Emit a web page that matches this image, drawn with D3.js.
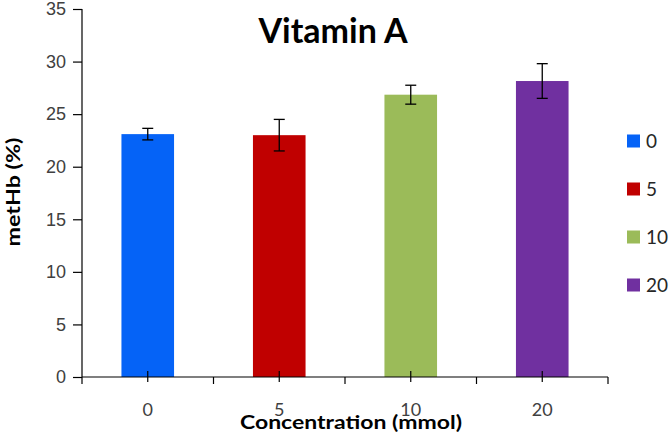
<!DOCTYPE html>
<html>
<head>
<meta charset="utf-8">
<script src="https://cdn.jsdelivr.net/npm/d3@7"></script>
<style>
  body { margin: 0; background: #fff; }
  svg { display: block; font-family: Lato, "Open Sans", sans-serif; }
  .tick text { fill: #404040; font-size: 18px; }
</style>
</head>
<body>
<div id="chart"></div>
<script>
const categories = ["0", "5", "10", "20"];
const values = [23.1, 23.0, 26.85, 28.15];
const errors = [0.55, 1.5, 0.9, 1.65];
const colors = ["#0563F7", "#C00000", "#9BBB59", "#7030A0"];
const yTicks = [0, 5, 10, 15, 20, 25, 30, 35];

const width = 671, height = 434;
const margin = { top: 9, right: 63, bottom: 57, left: 82 };
const innerW = width - margin.left - margin.right;
const innerH = height - margin.top - margin.bottom;

const svg = d3.select("#chart")
  .append("svg")
  .attr("width", width)
  .attr("height", height);

const g = svg.append("g")
  .attr("transform", "translate(" + margin.left + "," + margin.top + ")");

const x = d3.scaleBand()
  .domain(categories)
  .range([0, innerW])
  .paddingInner(0.6)
  .paddingOuter(0.3);

const y = d3.scaleLinear()
  .domain([0, 35])
  .range([innerH, 0]);

// bars
g.selectAll("rect.bar")
  .data(values)
  .enter()
  .append("rect")
  .attr("class", "bar")
  .attr("x", (d, i) => x(categories[i]))
  .attr("y", d => y(d))
  .attr("width", x.bandwidth())
  .attr("height", d => innerH - y(d))
  .attr("fill", (d, i) => colors[i]);

// error bars
const eb = g.selectAll("g.err")
  .data(values)
  .enter()
  .append("g")
  .attr("class", "err")
  .attr("stroke", "#000")
  .attr("stroke-width", 1.3);

const cx = i => x(categories[i]) + x.bandwidth() / 2;

eb.append("line")
  .attr("x1", (d, i) => cx(i))
  .attr("x2", (d, i) => cx(i))
  .attr("y1", (d, i) => y(d + errors[i]))
  .attr("y2", (d, i) => y(d - errors[i]));
eb.append("line")
  .attr("x1", (d, i) => cx(i) - 5.5)
  .attr("x2", (d, i) => cx(i) + 5.5)
  .attr("y1", (d, i) => y(d + errors[i]))
  .attr("y2", (d, i) => y(d + errors[i]));
eb.append("line")
  .attr("x1", (d, i) => cx(i) - 5.5)
  .attr("x2", (d, i) => cx(i) + 5.5)
  .attr("y1", (d, i) => y(d - errors[i]))
  .attr("y2", (d, i) => y(d - errors[i]));

// y axis
g.append("g")
  .call(d3.axisLeft(y).tickValues(yTicks).tickSize(9).tickPadding(7))
  .call(a => a.selectAll("line, path").attr("stroke", "#000").attr("stroke-width", 1.2))
  .call(a => a.select(".domain").attr("d", "M0," + innerH + "V0"));

// x axis: boundary ticks below, centre ticks crossing
const xAxis = g.append("g")
  .attr("transform", "translate(0," + innerH + ")");
xAxis.append("line")
  .attr("x1", 0).attr("x2", innerW)
  .attr("stroke", "#000").attr("stroke-width", 1.2);

const step = innerW / categories.length;
const bounds = d3.range(categories.length + 1).map(i => i * step);
xAxis.selectAll("line.bt")
  .data(bounds)
  .enter()
  .append("line")
  .attr("class", "bt")
  .attr("x1", d => d).attr("x2", d => d)
  .attr("y1", 0).attr("y2", 7)
  .attr("stroke", "#000").attr("stroke-width", 1.2);

xAxis.selectAll("line.ct")
  .data(categories)
  .enter()
  .append("line")
  .attr("class", "ct")
  .attr("x1", (d, i) => cx(i)).attr("x2", (d, i) => cx(i))
  .attr("y1", -6).attr("y2", 5)
  .attr("stroke", "#000").attr("stroke-width", 1.2);

xAxis.selectAll("text.xl")
  .data(categories)
  .enter()
  .append("text")
  .attr("class", "xl")
  .attr("x", (d, i) => cx(i))
  .attr("y", 39)
  .attr("text-anchor", "middle")
  .attr("fill", "#404040")
  .style("font-size", "18px")
  .text(d => d);

// titles
svg.append("text")
  .attr("x", 333)
  .attr("y", 43)
  .attr("text-anchor", "middle")
  .style("font-size", "34px")
  .style("font-weight", "bold")
  .attr("fill", "#000")
  .text("Vitamin A");

svg.append("text")
  .attr("x", 351)
  .attr("y", 429)
  .attr("text-anchor", "middle")
  .attr("textLength", 222)
  .attr("lengthAdjust", "spacingAndGlyphs")
  .style("font-size", "19px")
  .style("font-weight", "bold")
  .attr("fill", "#000")
  .text("Concentration (mmol)");

svg.append("text")
  .attr("transform", "translate(20,192) rotate(-90)")
  .attr("text-anchor", "middle")
  .attr("textLength", 109)
  .attr("lengthAdjust", "spacingAndGlyphs")
  .style("font-size", "19px")
  .style("font-weight", "bold")
  .attr("fill", "#000")
  .text("metHb (%)");

// legend
const legend = svg.append("g")
  .attr("transform", "translate(627,141)");
const li = legend.selectAll("g")
  .data(categories)
  .enter()
  .append("g")
  .attr("transform", (d, i) => "translate(0," + i * 48 + ")");
li.append("rect")
  .attr("x", 0).attr("y", -6.5)
  .attr("width", 13).attr("height", 13)
  .attr("fill", (d, i) => colors[i]);
li.append("text")
  .attr("x", 19)
  .attr("y", 7)
  .attr("fill", "#262626")
  .style("font-size", "19px")
  .text(d => d);
</script>
</body>
</html>
